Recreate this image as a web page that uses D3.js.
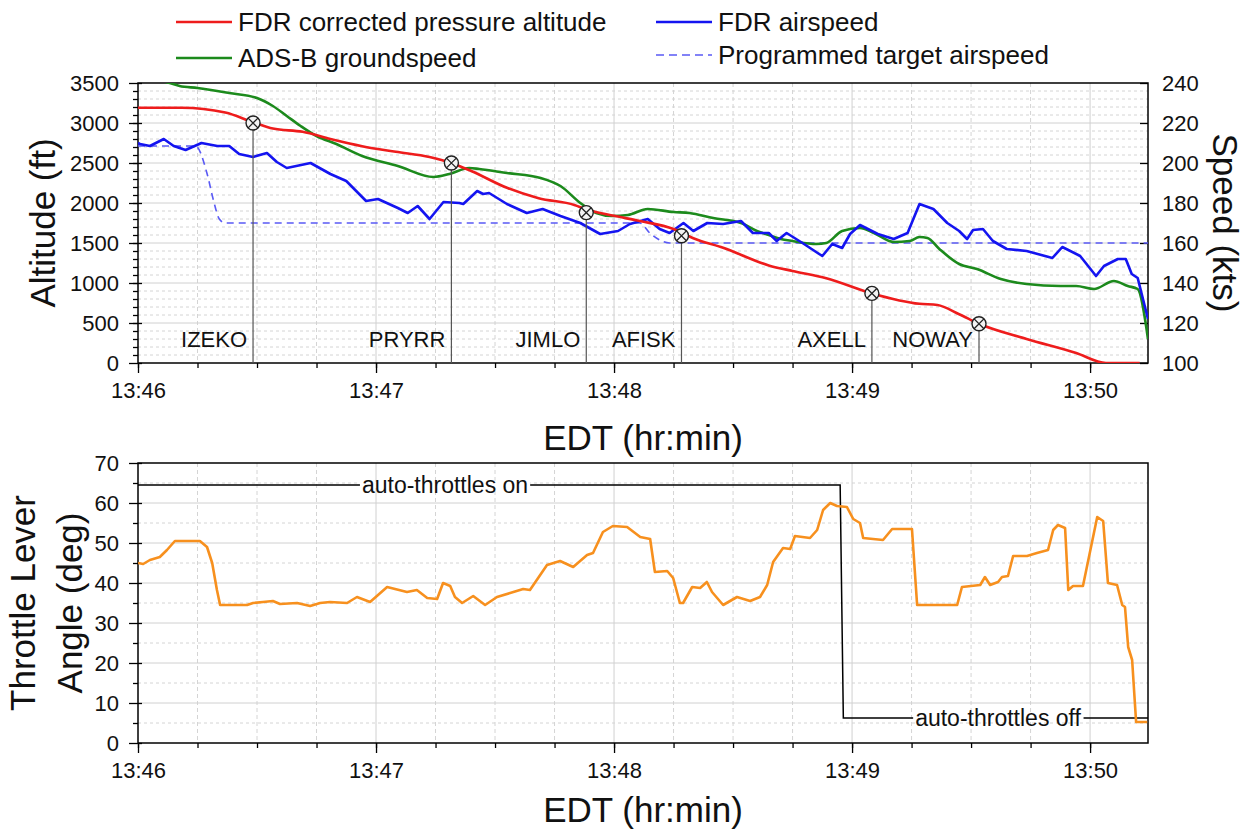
<!DOCTYPE html>
<html>
<head>
<meta charset="utf-8">
<script src="https://cdn.jsdelivr.net/npm/d3@7"></script>
<style>
  body { margin: 0; background: #fff; }
  svg { font-family: Arial, "Liberation Sans", sans-serif; }
</style>
</head>
<body>
<svg class="svg" width="1250" height="833"></svg>
<script>
// time is in seconds after 13:46:00 EDT
var timeTicks = [0, 60, 120, 180, 240];
var timeLabels = ['13:46', '13:47', '13:48', '13:49', '13:50'];
var altTicks = [0, 500, 1000, 1500, 2000, 2500, 3000, 3500];
var spdTicks = [100, 120, 140, 160, 180, 200, 220, 240];
var tlaTicks = [0, 10, 20, 30, 40, 50, 60, 70];

// FDR corrected pressure altitude (ft)
var altitudeFt = [[0, 3190], [11, 3190], [22, 3130], [29, 3010], [34, 2930], [41.5, 2890], [48.5, 2800], [56.5, 2710],
  [65, 2640], [73.5, 2575], [79, 2500], [84, 2400], [93, 2190], [101, 2060], [110, 1975], [113, 1920], [120, 1840],
  [126.5, 1775], [135, 1675], [140, 1560], [147.5, 1440], [159, 1220], [165, 1150], [173.5, 1060], [185, 870],
  [197, 740], [201.5, 725], [207, 610], [212, 490], [224, 300], [236.5, 125], [244, 0], [252.5, 0]];

// ADS-B groundspeed (kts)
var groundspeedKts = [[0, 243], [8, 240], [10.5, 238.5], [15, 237.5], [23, 235], [30, 232.5], [34, 228.5], [37.5, 223.5],
  [41, 218.5], [45, 213.5], [50, 209.5], [56.5, 203.5], [65.5, 198.5], [74.5, 193], [78.5, 194.5], [83.5, 197.5],
  [86, 197], [93, 195], [101.5, 192.5], [106.5, 188.5], [111.5, 180], [115.5, 175], [119.5, 173.5], [123.5, 174],
  [128.5, 177], [135, 175.5], [139, 175], [145, 172.5], [152, 170], [156, 166], [159, 164], [162, 162], [165, 161],
  [171, 159.5], [173.5, 160], [177.5, 166], [182, 167.5], [185.5, 165], [190.5, 160.5], [194.5, 161], [197, 163],
  [199, 162.5], [202, 157], [207, 149.5], [211.5, 147], [217.5, 142], [224, 139.5], [232.5, 138.5], [236.5, 138.5],
  [241, 137], [246, 141], [249.5, 138.5], [252, 137], [254.6, 112]];

// FDR airspeed (kts)
var airspeedKts = [[0, 210], [0.5, 209.5], [3, 208.5], [6.5, 212], [9, 208.5], [12, 206.5], [16, 210], [20, 208.5],
  [23, 208.5], [25.5, 204.5], [29, 203], [32.5, 205], [35, 200.5], [37.5, 197.5], [43.5, 200], [48.5, 194.5],
  [52.5, 191], [57.5, 181], [60.5, 182], [65.5, 177.5], [68, 175], [70.5, 178.5], [73.5, 172], [77, 180.5], [81, 180],
  [82, 179.5], [85.5, 186], [87, 184.5], [88.5, 185], [93, 179.5], [98, 175], [102, 177], [106.5, 173.5], [111.5, 170],
  [116.5, 164.5], [121, 166], [124, 169.5], [128.5, 172], [131.5, 167], [134, 165], [137.5, 170], [140, 166],
  [143.5, 170], [147.5, 169.5], [152, 171], [155, 165], [159, 165], [161, 161], [163.5, 165], [167.5, 160],
  [172.5, 153.5], [175, 159.5], [177.5, 157.5], [179.5, 164.5], [182, 169], [186.5, 164.5], [190.5, 162], [194, 165],
  [197, 179.5], [200.5, 177], [204, 170], [207, 166], [209, 162], [210.5, 166.5], [213, 167], [215.5, 161], [219, 157],
  [224, 156], [230.5, 152.5], [233, 158], [237.5, 153.5], [241.5, 143.5], [243.5, 148.5], [247, 152], [249, 152],
  [250.5, 144.5], [252, 142.5], [254.6, 122]];

// programmed target airspeed (kts)
var targetKts = [[0, 208.5], [14.5, 208.5], [17.5, 194], [19, 181.5], [20.5, 172], [22, 170], [126.5, 170],
  [129, 165], [132, 161], [134, 160], [254.6, 160]];

// throttle lever angle (deg)
var throttleDeg = [[0, 45], [1.3, 44.75], [3, 45.75], [5.5, 46.5], [7.3, 48.25], [9.3, 50.5], [15.6, 50.5], [17.4, 49],
  [18.7, 45], [19.9, 38.25], [20.7, 34.5], [27.5, 34.5], [29, 35], [31.5, 35.25], [34, 35.5], [35.8, 34.75], [40.1, 35],
  [43.4, 34.25], [45.9, 35], [48.4, 35.25], [52.7, 35], [55.2, 36.5], [58.5, 35.25], [62.8, 39], [67.8, 37.75],
  [70.3, 38.25], [72.9, 36.25], [75.4, 36], [76.9, 40], [78.7, 39.25], [79.9, 36.5], [81.7, 35], [84.5, 36.75],
  [87.5, 34.5], [90.5, 36.5], [93.8, 37.5], [97.1, 38.5], [98.8, 38.25], [103.1, 44.5], [106.4, 45.5], [109.7, 44],
  [113.2, 47], [114.7, 47.5], [117.2, 52.75], [119.7, 54.25], [123.3, 54], [126.6, 51.5], [129.1, 51], [130.3, 42.75],
  [133.4, 43], [134.9, 41.25], [136.6, 35], [137.4, 35], [139.7, 39], [141.7, 38.75], [143.4, 40.25], [144.7, 37.75],
  [147.5, 34.5], [151, 36.5], [154.3, 35.5], [156.8, 36.5], [158.6, 39.5], [160.1, 45.25], [162.6, 48.75],
  [164.4, 48.5], [165.6, 51.75], [169.4, 51.25], [171.2, 53.25], [172.7, 58.25], [174.5, 60], [176.2, 59.25],
  [178.7, 59], [180.3, 56], [182, 55], [182.8, 51.25], [187.8, 50.75], [190.1, 53.5], [195.1, 53.5], [196.4, 34.5],
  [206.5, 34.5], [207.7, 39], [212.3, 39.5], [213.5, 41.5], [214.8, 39.5], [216.8, 40.25], [217.8, 41.5],
  [219.3, 41.75], [220.6, 46.75], [224.1, 46.75], [226.6, 47.5], [229.4, 48.25], [230.7, 53.25], [231.9, 54.5],
  [233.7, 53.75], [234.5, 38.25], [235.7, 39.25], [238.2, 39.25], [241.8, 56.5], [243.3, 55.5], [244.5, 40],
  [246.8, 39.5], [248.1, 34.5], [248.8, 34], [249.6, 24], [250.6, 20.75], [251.6, 5.25], [254.4, 5.25]];

// auto-throttle status line (drawn on the deg axis)
var autoThrottle = [[0, 64.5], [177, 64.5], [177.8, 6.25], [254.6, 6.25]];

// waypoint crossings
var wpNames = ['IZEKO', 'PRYRR', 'JIMLO', 'AFISK', 'AXELL', 'NOWAY'];
var wpTimes = [29, 79, 113, 137, 185, 212];
var wpAlts = [3000, 2500, 1880, 1590, 870, 490];

var legendNames = ['FDR corrected pressure altitude', 'ADS-B groundspeed', 'FDR airspeed', 'Programmed target airspeed'];

var svg = d3.select('.svg');
var left = 138, right = 1148;
var top1 = 83, bot1 = 363, top2 = 463, bot2 = 743;
var tEnd = 254.6;

var x = d3.scaleLinear().domain([0, tEnd]).range([left, right]);
var yAlt = d3.scaleLinear().domain([0, 3500]).range([bot1, top1]);
var ySpd = d3.scaleLinear().domain([100, 240]).range([bot1, top1]);
var yTla = d3.scaleLinear().domain([0, 70]).range([bot2, top2]);

var colors = { alt: '#ee1c1c', gs: '#1c8a1c', as: '#1414f0', tgt: '#5a5af5', tla: '#f7901e' };

//clip paths for the two plots
var defs = svg.append('defs');
defs.append('clipPath').attr('id', 'clip1').append('rect')
  .attr('x', left).attr('y', top1).attr('width', right - left).attr('height', bot1 - top1);
defs.append('clipPath').attr('id', 'clip2').append('rect')
  .attr('x', left).attr('y', top2).attr('width', right - left).attr('height', bot2 - top2);

//gridlines: solid at majors, dashed at minors
function grid(g, yScale, majors, minors, y0, y1) {
  var vMin = d3.range(15, tEnd, 15).filter(d => d % 60 !== 0);
  g.selectAll('.vmin').data(vMin).enter().append('line')
    .attr('x1', d => x(d)).attr('x2', d => x(d)).attr('y1', y0).attr('y2', y1)
    .attr('stroke', '#d4d4d4').attr('stroke-width', 1).attr('stroke-dasharray', '4,3');
  g.selectAll('.vmaj').data(timeTicks.slice(1)).enter().append('line')
    .attr('x1', d => x(d)).attr('x2', d => x(d)).attr('y1', y0).attr('y2', y1)
    .attr('stroke', '#d0d0d0').attr('stroke-width', 1);
  g.selectAll('.hmin').data(minors).enter().append('line')
    .attr('x1', left).attr('x2', right).attr('y1', d => yScale(d)).attr('y2', d => yScale(d))
    .attr('stroke', '#d4d4d4').attr('stroke-width', 1).attr('stroke-dasharray', '3,3');
  g.selectAll('.hmaj').data(majors).enter().append('line')
    .attr('x1', left).attr('x2', right).attr('y1', d => yScale(d)).attr('y2', d => yScale(d))
    .attr('stroke', '#d0d0d0').attr('stroke-width', 1);
}

grid(svg.append('g'), yAlt, altTicks.slice(1, -1), d3.range(100, 3500, 100).filter(d => d % 500 !== 0), top1, bot1);
grid(svg.append('g'), yTla, tlaTicks.slice(1, -1), d3.range(5, 70, 10), top2, bot2);

//axis helper - strips the domain path and restyles the text
function styleAxis(g, size) {
  g.select('.domain').remove();
  g.selectAll('line').attr('stroke', '#000').attr('stroke-width', 1.3);
  g.selectAll('text').attr('font-size', size).attr('font-family', 'Arial, "Liberation Sans", sans-serif').attr('fill', '#111');
  g.attr('font-size', null).attr('font-family', null);
}

function timeAxes(yPos) {
  svg.append('g').attr('transform', 'translate(0,' + yPos + ')')
    .call(d3.axisBottom(x).tickValues(d3.range(0, tEnd, 15)).tickSize(5).tickFormat(''))
    .call(g => styleAxis(g, 22));
  svg.append('g').attr('transform', 'translate(0,' + yPos + ')')
    .call(d3.axisBottom(x).tickValues(timeTicks).tickSize(10).tickPadding(9).tickFormat((d, i) => timeLabels[i]))
    .call(g => styleAxis(g, 22));
}

timeAxes(bot1);
timeAxes(bot2);

//left axes (ticks cross the axis line)
function leftAxis(scale, majors, minors) {
  svg.append('g').attr('transform', 'translate(' + left + ',0)')
    .call(d3.axisLeft(scale).tickValues(minors).tickSize(5).tickFormat(''))
    .call(g => styleAxis(g, 22));
  svg.append('g').attr('transform', 'translate(' + left + ',0)')
    .call(d3.axisRight(scale).tickValues(majors).tickSize(4).tickFormat(''))
    .call(g => styleAxis(g, 22));
  svg.append('g').attr('transform', 'translate(' + left + ',0)')
    .call(d3.axisLeft(scale).tickValues(majors).tickSize(9).tickPadding(10).tickFormat(d3.format('d')))
    .call(g => styleAxis(g, 22));
}

leftAxis(yAlt, altTicks, d3.range(100, 3500, 100));
leftAxis(yTla, tlaTicks, d3.range(5, 70, 10));

//right speed axis, ticks pointing in
svg.append('g').attr('transform', 'translate(' + right + ',0)')
  .call(d3.axisRight(ySpd).tickValues(spdTicks).tickSizeInner(-8).tickSizeOuter(0).tickPadding(14).tickFormat(d3.format('d')))
  .call(g => styleAxis(g, 22));

//plot frames
[[top1, bot1], [top2, bot2]].forEach(function (p) {
  svg.append('rect').attr('x', left).attr('y', p[0]).attr('width', right - left).attr('height', p[1] - p[0])
    .attr('fill', 'none').attr('stroke', '#000').attr('stroke-width', 1.5);
});

//top plot series
var plot1 = svg.append('g').attr('clip-path', 'url(#clip1)');
var altLine = d3.line().x(d => x(d[0])).y(d => yAlt(d[1])).curve(d3.curveMonotoneX);

plot1.append('path').attr('d', d3.line().x(d => x(d[0])).y(d => ySpd(d[1])).curve(d3.curveMonotoneX)(targetKts))
  .attr('fill', 'none').attr('stroke', colors.tgt).attr('stroke-width', 1.6).attr('stroke-dasharray', '7,5');
plot1.append('path').attr('d', d3.line().x(d => x(d[0])).y(d => ySpd(d[1])).curve(d3.curveMonotoneX)(groundspeedKts))
  .attr('fill', 'none').attr('stroke', colors.gs).attr('stroke-width', 2.6);
plot1.append('path').attr('d', d3.line().x(d => x(d[0])).y(d => ySpd(d[1]))(airspeedKts))
  .attr('fill', 'none').attr('stroke', colors.as).attr('stroke-width', 2.6).attr('stroke-linejoin', 'round');
plot1.append('path').attr('d', altLine(altitudeFt))
  .attr('fill', 'none').attr('stroke', colors.alt).attr('stroke-width', 2.6);

//waypoint drop lines, markers and names
var wp = svg.append('g').selectAll('.wp').data(wpNames).enter().append('g').attr('class', 'wp');
wp.append('line')
  .attr('x1', (d, i) => x(wpTimes[i])).attr('x2', (d, i) => x(wpTimes[i]))
  .attr('y1', (d, i) => yAlt(wpAlts[i])).attr('y2', bot1)
  .attr('stroke', '#555').attr('stroke-width', 1.2);
wp.append('circle')
  .attr('cx', (d, i) => x(wpTimes[i])).attr('cy', (d, i) => yAlt(wpAlts[i])).attr('r', 7)
  .attr('fill', '#f4f4f4').attr('stroke', '#222').attr('stroke-width', 1.4);
wp.append('path')
  .attr('d', (d, i) => {
    var cx = x(wpTimes[i]), cy = yAlt(wpAlts[i]), k = 4.9;
    return 'M' + (cx - k) + ',' + (cy - k) + 'L' + (cx + k) + ',' + (cy + k) +
      'M' + (cx - k) + ',' + (cy + k) + 'L' + (cx + k) + ',' + (cy - k);
  })
  .attr('stroke', '#222').attr('stroke-width', 1.3);
wp.append('text')
  .attr('x', (d, i) => x(wpTimes[i]) - 6).attr('y', bot1 - 16)
  .attr('text-anchor', 'end').attr('font-size', 22).attr('fill', '#111')
  .text(d => d);

//bottom plot series
var plot2 = svg.append('g').attr('clip-path', 'url(#clip2)');
var tlaLine = d3.line().x(d => x(d[0])).y(d => yTla(d[1]));
plot2.append('path').attr('d', tlaLine(autoThrottle))
  .attr('fill', 'none').attr('stroke', '#000').attr('stroke-width', 1.5);
plot2.append('path').attr('d', tlaLine(throttleDeg))
  .attr('fill', 'none').attr('stroke', colors.tla).attr('stroke-width', 2.6).attr('stroke-linejoin', 'round');

//auto-throttle annotations sit on the status line
[['auto-throttles on', 77.4, 64.5], ['auto-throttles off', 216.8, 6.25]].forEach(function (a) {
  var t = svg.append('text').attr('x', x(a[1])).attr('y', yTla(a[2]) + 8)
    .attr('text-anchor', 'middle').attr('font-size', 23).attr('fill', '#111').text(a[0]);
  var bb = t.node().getBBox();
  svg.insert('rect', function () { return t.node(); })
    .attr('x', bb.x - 2).attr('y', yTla(a[2]) - 3).attr('width', bb.width + 4).attr('height', 6).attr('fill', '#fff');
});

//axis titles
svg.append('text').attr('transform', 'translate(55,' + ((top1 + bot1) / 2) + ') rotate(-90)')
  .attr('text-anchor', 'middle').attr('font-size', 35).attr('fill', '#111').text('Altitude (ft)');
svg.append('text').attr('transform', 'translate(1213,' + ((top1 + bot1) / 2) + ') rotate(90)')
  .attr('text-anchor', 'middle').attr('font-size', 35).attr('fill', '#111').text('Speed (kts)');
svg.append('text').attr('x', (left + right) / 2).attr('y', 450)
  .attr('text-anchor', 'middle').attr('font-size', 35).attr('fill', '#111').text('EDT (hr:min)');
svg.append('text').attr('x', (left + right) / 2).attr('y', 822)
  .attr('text-anchor', 'middle').attr('font-size', 35).attr('fill', '#111').text('EDT (hr:min)');
svg.append('text').attr('transform', 'translate(35,' + ((top2 + bot2) / 2) + ') rotate(-90)')
  .attr('text-anchor', 'middle').attr('font-size', 35).attr('fill', '#111').text('Throttle Lever');
svg.append('text').attr('transform', 'translate(82,' + ((top2 + bot2) / 2) + ') rotate(-90)')
  .attr('text-anchor', 'middle').attr('font-size', 35).attr('fill', '#111').text('Angle (deg)');

//legend
var legendPos = [[176, 22], [176, 58], [656, 22], [656, 55]];
var legendColor = [colors.alt, colors.gs, colors.as, colors.tgt];
var legend = svg.append('g').selectAll('.leg').data(legendNames).enter().append('g');
legend.append('line')
  .attr('x1', (d, i) => legendPos[i][0]).attr('x2', (d, i) => legendPos[i][0] + 56)
  .attr('y1', (d, i) => legendPos[i][1]).attr('y2', (d, i) => legendPos[i][1])
  .attr('stroke', (d, i) => legendColor[i])
  .attr('stroke-width', (d, i) => i === 3 ? 1.6 : 2.6)
  .attr('stroke-dasharray', (d, i) => i === 3 ? '8,5' : null);
legend.append('text')
  .attr('x', (d, i) => legendPos[i][0] + 62).attr('y', (d, i) => legendPos[i][1] + 9)
  .attr('font-size', 26).attr('fill', '#111').text(d => d);
</script>
</body>
</html>
